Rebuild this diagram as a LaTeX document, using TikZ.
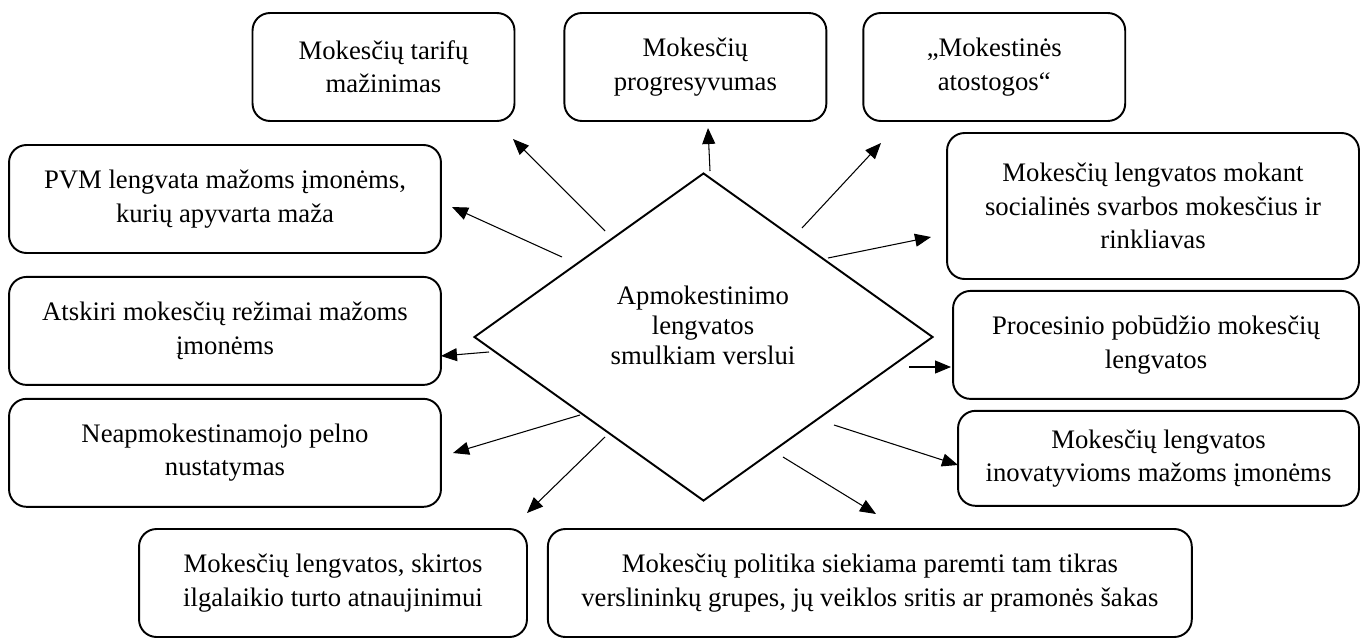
\documentclass[tikz,border=0pt]{standalone}
\usepackage{fontspec}
\setmainfont{Liberation Serif}
\usetikzlibrary{shapes.geometric, arrows.meta, positioning}

\begin{document}
\begin{tikzpicture}[
		x=0.02cm, y=-0.02cm,
		font=\fontsize{15.2}{19}\selectfont,
		box/.style={rectangle, draw=black, line width=1.1pt, rounded corners=0.35cm, align=center, minimum height=2.16cm, inner sep=2pt},
		topbox/.style={box, minimum width=5.24cm},
		leftbox/.style={box, minimum width=8.64cm},
		arr/.style={-{Triangle[length=0.32cm, width=0.26cm]}, line width=0.6pt}
		]
		\useasboundingbox (0,0) rectangle (1361,639);
		
		% Centre
		\node[diamond, draw=black, line width=1.1pt, minimum width=9.18cm, minimum height=6.56cm] (core) at (703.5,337) {};
		\node[align=center, font=\fontsize{15.2}{17}\selectfont] (coretext) at (703,325) {Apmokestinimo\\lengvatos\\smulkiam verslui};
		
		% Top row
		\node[topbox] (tarif) at (383.5,67) {Mokesčių tarifų\\mažinimas};
		\node[topbox, right=0.96cm of tarif] (progres) {Mokesčių\\progresyvumas};
		\node[topbox, right=0.70cm of progres] (atost) {„Mokestinės\\atostogos“};
		
		% Left column
		\node[leftbox] (pvm) at (225,199) {PVM lengvata mažoms įmonėms,\\kurių apyvarta maža};
		\node[leftbox, below=0.44cm of pvm] (atskiri) {Atskiri mokesčių režimai mažoms\\įmonėms};
		\node[leftbox, below=0.24cm of atskiri] (neapm) {Neapmokestinamojo pelno\\nustatymas};
		
		% Right column
		\node[box, minimum width=8.24cm, minimum height=2.92cm] (social) at (1153,206) {Mokesčių lengvatos mokant\\socialinės svarbos mokesčius ir\\rinkliavas};
		\node[box, minimum width=8.12cm, below=0.2cm of social.south east, anchor=north east] (proces) {Procesinio pobūdžio mokesčių\\lengvatos};
		\node[box, minimum width=8.02cm, minimum height=1.90cm, below=0.2cm of proces.south east, anchor=north east] (inov) {Mokesčių lengvatos\\inovatyvioms mažoms įmonėms};
		
		% Bottom row
		\node[box, minimum width=7.76cm] (turto) at (333,583) {Mokesčių lengvatos, skirtos\\ilgalaikio turto atnaujinimui};
		\node[box, minimum width=12.88cm, right=0.38cm of turto] (politika) {Mokesčių politika siekiama paremti tam tikras\\verslininkų grupes, jų veiklos sritis ar pramonės šakas};
		
		% Arrow ends
		\coordinate (tarif-s) at (605,231);
		\coordinate (tarif-e) at (513,139);
		\coordinate (pvm-s) at (562,257);
		\coordinate (pvm-e) at (452,207);
		\coordinate (progres-s) at (710,171);
		\coordinate (progres-e) at (708,128);
		\coordinate (atost-s) at (802,228);
		\coordinate (atost-e) at (881,143);
		\coordinate (social-s) at (828,258);
		\coordinate (social-e) at (931,237);
		\coordinate (atskiri-s) at (489,352);
		\coordinate (atskiri-e) at (441,356);
		\coordinate (proces-s) at (909,367);
		\coordinate (proces-e) at (951,367);
		\coordinate (neapm-s) at (580,415);
		\coordinate (neapm-e) at (453,453);
		\coordinate (turto-s) at (605,437);
		\coordinate (turto-e) at (527,513);
		\coordinate (inov-s) at (834,425);
		\coordinate (inov-e) at (958,465);
		\coordinate (politika-s) at (783,457);
		\coordinate (politika-e) at (876,514);
		
		% Connect them
		\draw[arr] (tarif-s) -- (tarif-e);
		\draw[arr] (pvm-s) -- (pvm-e);
		\draw[arr] (progres-s) -- (progres-e);
		\draw[arr] (atost-s) -- (atost-e);
		\draw[arr] (social-s) -- (social-e);
		\draw[arr] (atskiri-s) -- (atskiri-e);
		\draw[arr] (proces-s) -- (proces-e);
		\draw[arr] (neapm-s) -- (neapm-e);
		\draw[arr] (turto-s) -- (turto-e);
		\draw[arr] (inov-s) -- (inov-e);
		\draw[arr] (politika-s) -- (politika-e);
	\end{tikzpicture}
\end{document}
